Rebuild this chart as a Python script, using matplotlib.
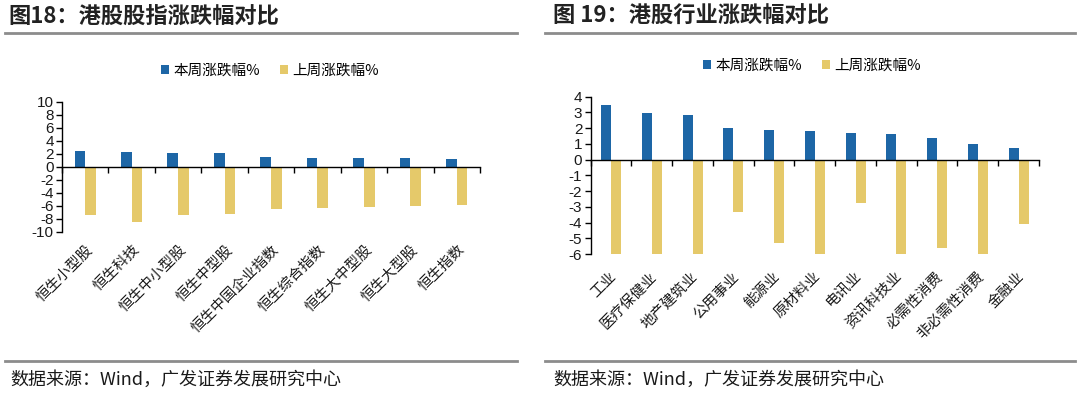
import matplotlib
matplotlib.use("Agg")
import matplotlib.pyplot as plt
import matplotlib.transforms as mtransforms
from matplotlib.patches import Patch
from matplotlib.lines import Line2D
import numpy as np

plt.rcParams['font.family'] = ['Noto Sans CJK SC', 'DejaVu Sans']
plt.rcParams['axes.unicode_minus'] = False

# ---------------- data ----------------
left_title = "图18：港股股指涨跌幅对比"
right_title = "图 19：港股行业涨跌幅对比"
series_names = ["本周涨跌幅%", "上周涨跌幅%"]
source_text = "数据来源：Wind，广发证券发展研究中心"

index_names = ["恒生小型股", "恒生科技", "恒生中小型股", "恒生中型股", "恒生中国企业指数",
               "恒生综合指数", "恒生大中型股", "恒生大型股", "恒生指数"]
index_this_week = [2.38, 2.23, 2.12, 2.12, 1.55, 1.40, 1.40, 1.30, 1.14]
index_last_week = [-7.41, -8.55, -7.41, -7.25, -6.58, -6.32, -6.17, -6.01, -5.85]
index_yticks = [10, 8, 6, 4, 2, 0, -2, -4, -6, -8, -10]

sector_names = ["工业", "医疗保健业", "地产建筑业", "公用事业", "能源业", "原材料业",
                "电讯业", "资讯科技业", "必需性消费", "非必需性消费", "金融业"]
sector_this_week = [3.47, 2.97, 2.86, 2.02, 1.87, 1.79, 1.71, 1.64, 1.37, 0.99, 0.76]
sector_last_week = [-6.0, -6.0, -6.0, -3.33, -5.31, -6.0, -2.76, -6.0, -5.60, -6.0, -4.08]
sector_yticks = [4, 3, 2, 1, 0, -1, -2, -3, -4, -5, -6]

BLUE = "#1D66A6"
YELLOW = "#E5C96A"
GRAY = "#8C8C8C"
TXT = "#1a1a1a"

W, H = 1080, 397
fig = plt.figure(figsize=(W / 100, H / 100), dpi=100)


def fx(px):
    return px / W


def fy(py):
    return 1 - py / H


def draw_panel(ax, names, this_w, last_w, yticks, width, lab_dx, lab_dy):
    x = np.arange(len(names))
    ax.bar(x - width / 2, this_w, width=width, color=BLUE, zorder=2)
    ax.bar(x + width / 2, last_w, width=width, color=YELLOW, zorder=2)
    ax.set_xlim(-0.5, len(names) - 0.5)
    ax.set_ylim(min(yticks), max(yticks))
    ax.set_yticks(yticks)
    ax.set_yticklabels([str(t) for t in yticks], fontsize=11, family=['Liberation Sans', 'DejaVu Sans'],
                       color=TXT)
    ax.tick_params(axis='y', direction='out', length=4, width=1, pad=2, color='black')
    for s in ['top', 'right']:
        ax.spines[s].set_visible(False)
    ax.spines['left'].set_linewidth(1)
    ax.spines['bottom'].set_position(('data', 0))
    ax.spines['bottom'].set_linewidth(1)
    ax.set_xticks(np.arange(len(names) + 1) - 0.5)
    ax.set_xticklabels([])
    ax.tick_params(axis='x', direction='out', length=4, width=1, color='black')
    trans = mtransforms.blended_transform_factory(ax.transData, ax.transAxes)
    for i, n in enumerate(names):
        ax.text(i + lab_dx, lab_dy, n, transform=trans, rotation=45, ha='right', va='center',
                rotation_mode='anchor', fontsize=10.5, color=TXT)


# left panel
axL = fig.add_axes([fx(62), fy(231.7), fx(480 - 62), (231.7 - 101.7) / H])
draw_panel(axL, index_names, index_this_week, index_last_week, index_yticks, 0.23, 0.12, -0.12)

# right panel
axR = fig.add_axes([fx(590.7), fy(254), fx(1039 - 590.7), (254 - 96.7) / H])
draw_panel(axR, sector_names, sector_this_week, sector_last_week, sector_yticks, 0.245, 0.08, -0.13)

# titles
fig.text(fx(8), fy(16), left_title, fontsize=16, fontweight='bold', color="#222222", va='center', ha='left')
fig.text(fx(553), fy(16), right_title, fontsize=16, fontweight='bold', color="#222222", va='center', ha='left')

# separator lines
for (x0, x1) in [(5, 517), (545, 1075)]:
    for yy in (33, 361):
        fig.add_artist(Line2D([fx(x0), fx(x1)], [fy(yy), fy(yy)], color=GRAY, lw=2))

# source text
fig.text(fx(10), fy(380), source_text, fontsize=13, color=TXT, va='center', ha='left')
fig.text(fx(553), fy(380), source_text, fontsize=13, color=TXT, va='center', ha='left')

# legends
handles = [Patch(facecolor=BLUE), Patch(facecolor=YELLOW)]
for cx, cy in [(270, 71), (812, 66)]:
    fig.legend(handles, series_names, loc='center', bbox_to_anchor=(fx(cx), fy(cy)), ncol=2,
               frameon=False, fontsize=10.5, handlelength=0.55, handleheight=0.55,
               handletextpad=0.3, columnspacing=1.4, borderpad=0)

fig.savefig("out.png", dpi=100)
